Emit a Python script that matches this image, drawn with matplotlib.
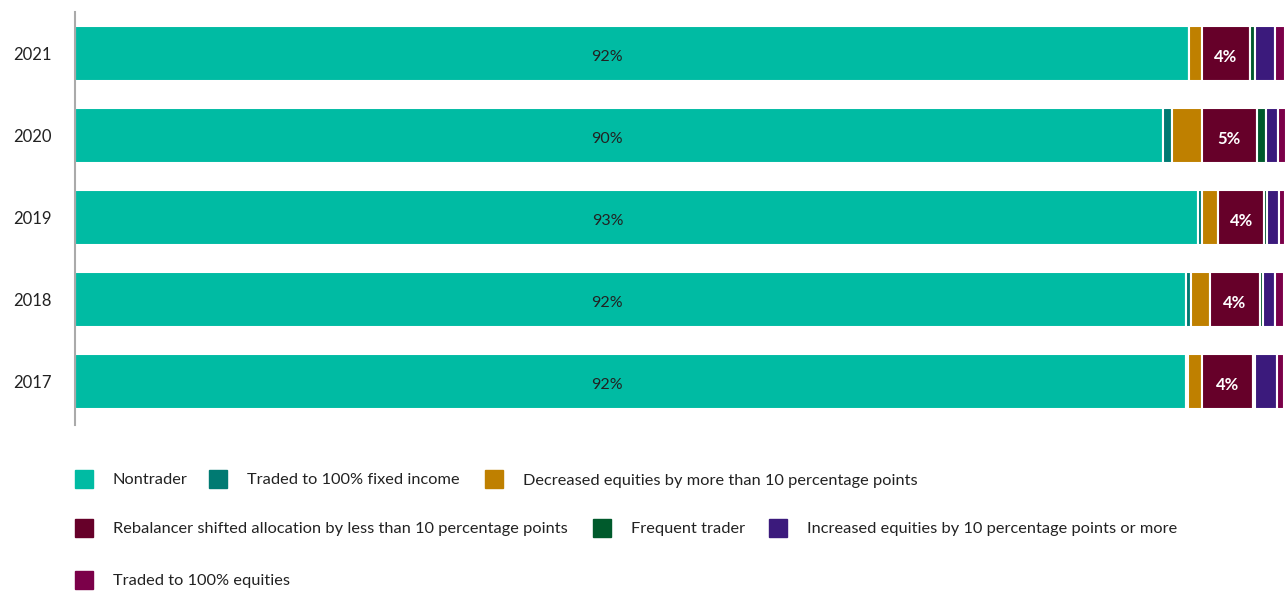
import matplotlib
matplotlib.use("Agg")
import matplotlib.pyplot as plt
from matplotlib.patches import Rectangle
from matplotlib.transforms import ScaledTranslation
import numpy as np

plt.rcParams['font.family'] = ['Lato', 'DejaVu Sans']

years = ["2021", "2020", "2019", "2018", "2017"]

categories = [
    "Nontrader",
    "Traded to 100% fixed income",
    "Decreased equities by more than 10 percentage points",
    "Rebalancer shifted allocation by less than 10 percentage points",
    "Frequent trader",
    "Increased equities by 10 percentage points or more",
    "Traded to 100% equities",
]

# Share of investors (%) per year, one list per behaviour
nontrader       = [92.1, 89.9, 92.8, 91.8, 91.8]
to_fixed_income = [0.0, 0.8, 0.3, 0.4, 0.15]
decreased_eq    = [1.0, 2.4, 1.4, 1.6, 1.2]
rebalancer      = [4.0, 4.6, 3.8, 4.1, 4.2]
frequent        = [0.4, 0.7, 0.2, 0.3, 0.15]
increased_eq    = [1.7, 1.0, 1.0, 1.0, 1.8]
to_equities     = [0.8, 0.7, 0.5, 0.7, 0.6]

colors = ["#00BBA3", "#007A72", "#BF8000", "#660029", "#005A2C", "#3B1A7C", "#7B0049"]

series = [nontrader, to_fixed_income, decreased_eq, rebalancer,
          frequent, increased_eq, to_equities]

fig = plt.figure(figsize=(12.86, 5.91), dpi=100)
ax = fig.add_axes([75 / 1286, 1 - 425 / 591, 1210 / 1286, (425 - 12) / 591])

y = np.arange(len(years))
left = np.zeros(len(years))
for vals, col in zip(series, colors):
    vals = np.array(vals, dtype=float)
    ax.barh(y, vals, left=left, height=0.68, color=col,
            edgecolor="white", linewidth=1.5)
    left += vals

# value labels: nontrader share (fixed column) and rebalancer share
NONTRADER_LABEL_X = 44
nudge = ax.transData + ScaledTranslation(0, -2 / 100, fig.dpi_scale_trans)
for i in range(len(years)):
    v = nontrader[i]
    ax.text(NONTRADER_LABEL_X, y[i], f"{v:.0f}%", ha="center",
            va="center_baseline", fontsize=11.5, color="#222222",
            transform=nudge)
    start = nontrader[i] + to_fixed_income[i] + decreased_eq[i]
    r = rebalancer[i]
    ax.text(start + r / 2, y[i], f"{r:.0f}%", ha="center",
            va="center_baseline", fontsize=12, color="white",
            fontweight="bold", transform=nudge)

ax.set_xlim(0, 100)
ax.set_ylim(4.53, -0.506)
ax.set_yticks(y)
ax.set_yticklabels(years, fontsize=12, color="#222222", va="center_baseline")
ax.tick_params(axis="y", length=0, pad=17)
ax.set_xticks([])
for s in ["top", "right", "bottom"]:
    ax.spines[s].set_visible(False)
ax.spines["left"].set_color("#AAAAAA")
ax.spines["left"].set_linewidth(1.5)

# legend drawn as swatches + labels in figure pixels
W, H = 1286, 591
legend_pos = [
    (75, 479), (209, 479), (485, 479),
    (75, 528), (593, 528), (769, 528),
    (75, 580),
]
sq = 18
for (px, py), lab, col in zip(legend_pos, categories, colors):
    fig.patches.append(Rectangle((px / W, 1 - (py + sq / 2) / H), sq / W, sq / H,
                                 transform=fig.transFigure, color=col))
    fig.text((px + 38) / W, 1 - py / H, lab, ha="left", va="center_baseline",
             fontsize=11.8, color="#222222")

fig.savefig("out.png", dpi=100)
